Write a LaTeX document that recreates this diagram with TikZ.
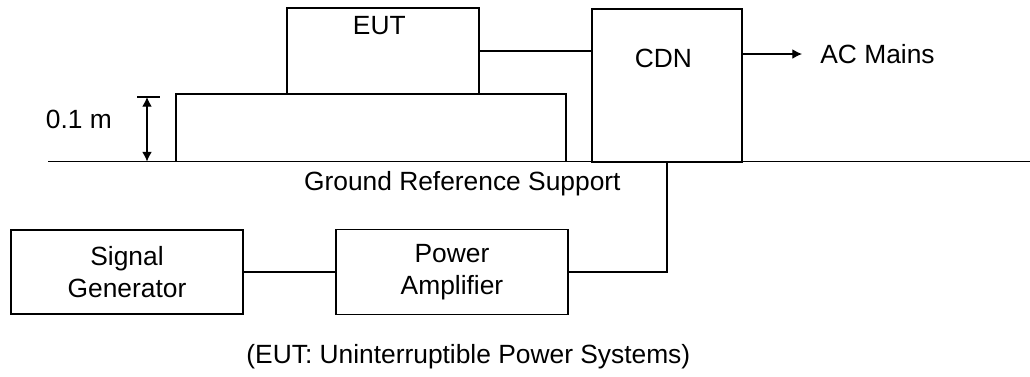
\documentclass[tikz,border=0pt]{standalone}
\usepackage{fontspec}
\setmainfont{Liberation Sans}
\usepackage{tikz}
\usetikzlibrary{calc,positioning,arrows.meta}

\begin{document}
\begin{tikzpicture}[every text node part/.style={align=center},
  font=\fontsize{15}{18}\selectfont, line width=0.6pt,
  box/.style={draw,rectangle,inner sep=0pt},
  >={Latex[length=5.5pt,width=5.5pt]}]
\useasboundingbox (0,0) rectangle (20.6,-7.52);
% ground
\coordinate (gl) at (0.96,-3.23);
\coordinate (gr) at (20.6,-3.23);
\draw (gl) -- (gr);
\node (ground) at (9.32,-3.68) { Ground Reference Support };
% table, EUT and CDN
\node[box,minimum width=7.8cm,minimum height=1.35cm] (table) at (7.42,-2.555) {};
\node[box,minimum width=3.84cm,minimum height=1.72cm] (eut) at (7.66,-1.02) {};
\node (euttext) at ($(eut.north)+(0,-0.36)$) { EUT };
\node[box,minimum width=3cm,minimum height=3.06cm] (cdn) at (13.34,-1.71) {};
\node (cdntext) at ($(cdn.north)+(0,-1)$) { CDN };
\draw (eut.east) -- (eut.east -| cdn.west);
\node[anchor=west] (ac) at (16.28,-1.08) { AC Mains };
\draw[->,shorten >=0.24cm] (cdn.east |- ac.west) -- (ac.west);
% height of the table
\coordinate (dtop) at (2.94,-1.94);
\coordinate (dbot) at (2.94,-3.23);
\draw ($(dtop)+(-0.2,0)$) -- ($(dtop)+(0.26,0)$);
\draw[<->] (dtop) -- (dbot);
\node (height) at (1.65,-2.38) { 0.1 m };
% generator chain
\node[box,minimum width=4.64cm,minimum height=1.68cm] (sg) at (2.54,-5.44) { Signal \\ Generator };
\node[box,minimum width=4.64cm,minimum height=1.7cm] (pa) at (9.04,-5.44) { Power \\ Amplifier };
\draw (sg) -- (pa);
\draw (pa.east) -| (cdn.south);
\node (caption) at (9.44,-7.14) { (EUT: Uninterruptible Power Systems) };
\end{tikzpicture}
\end{document}
